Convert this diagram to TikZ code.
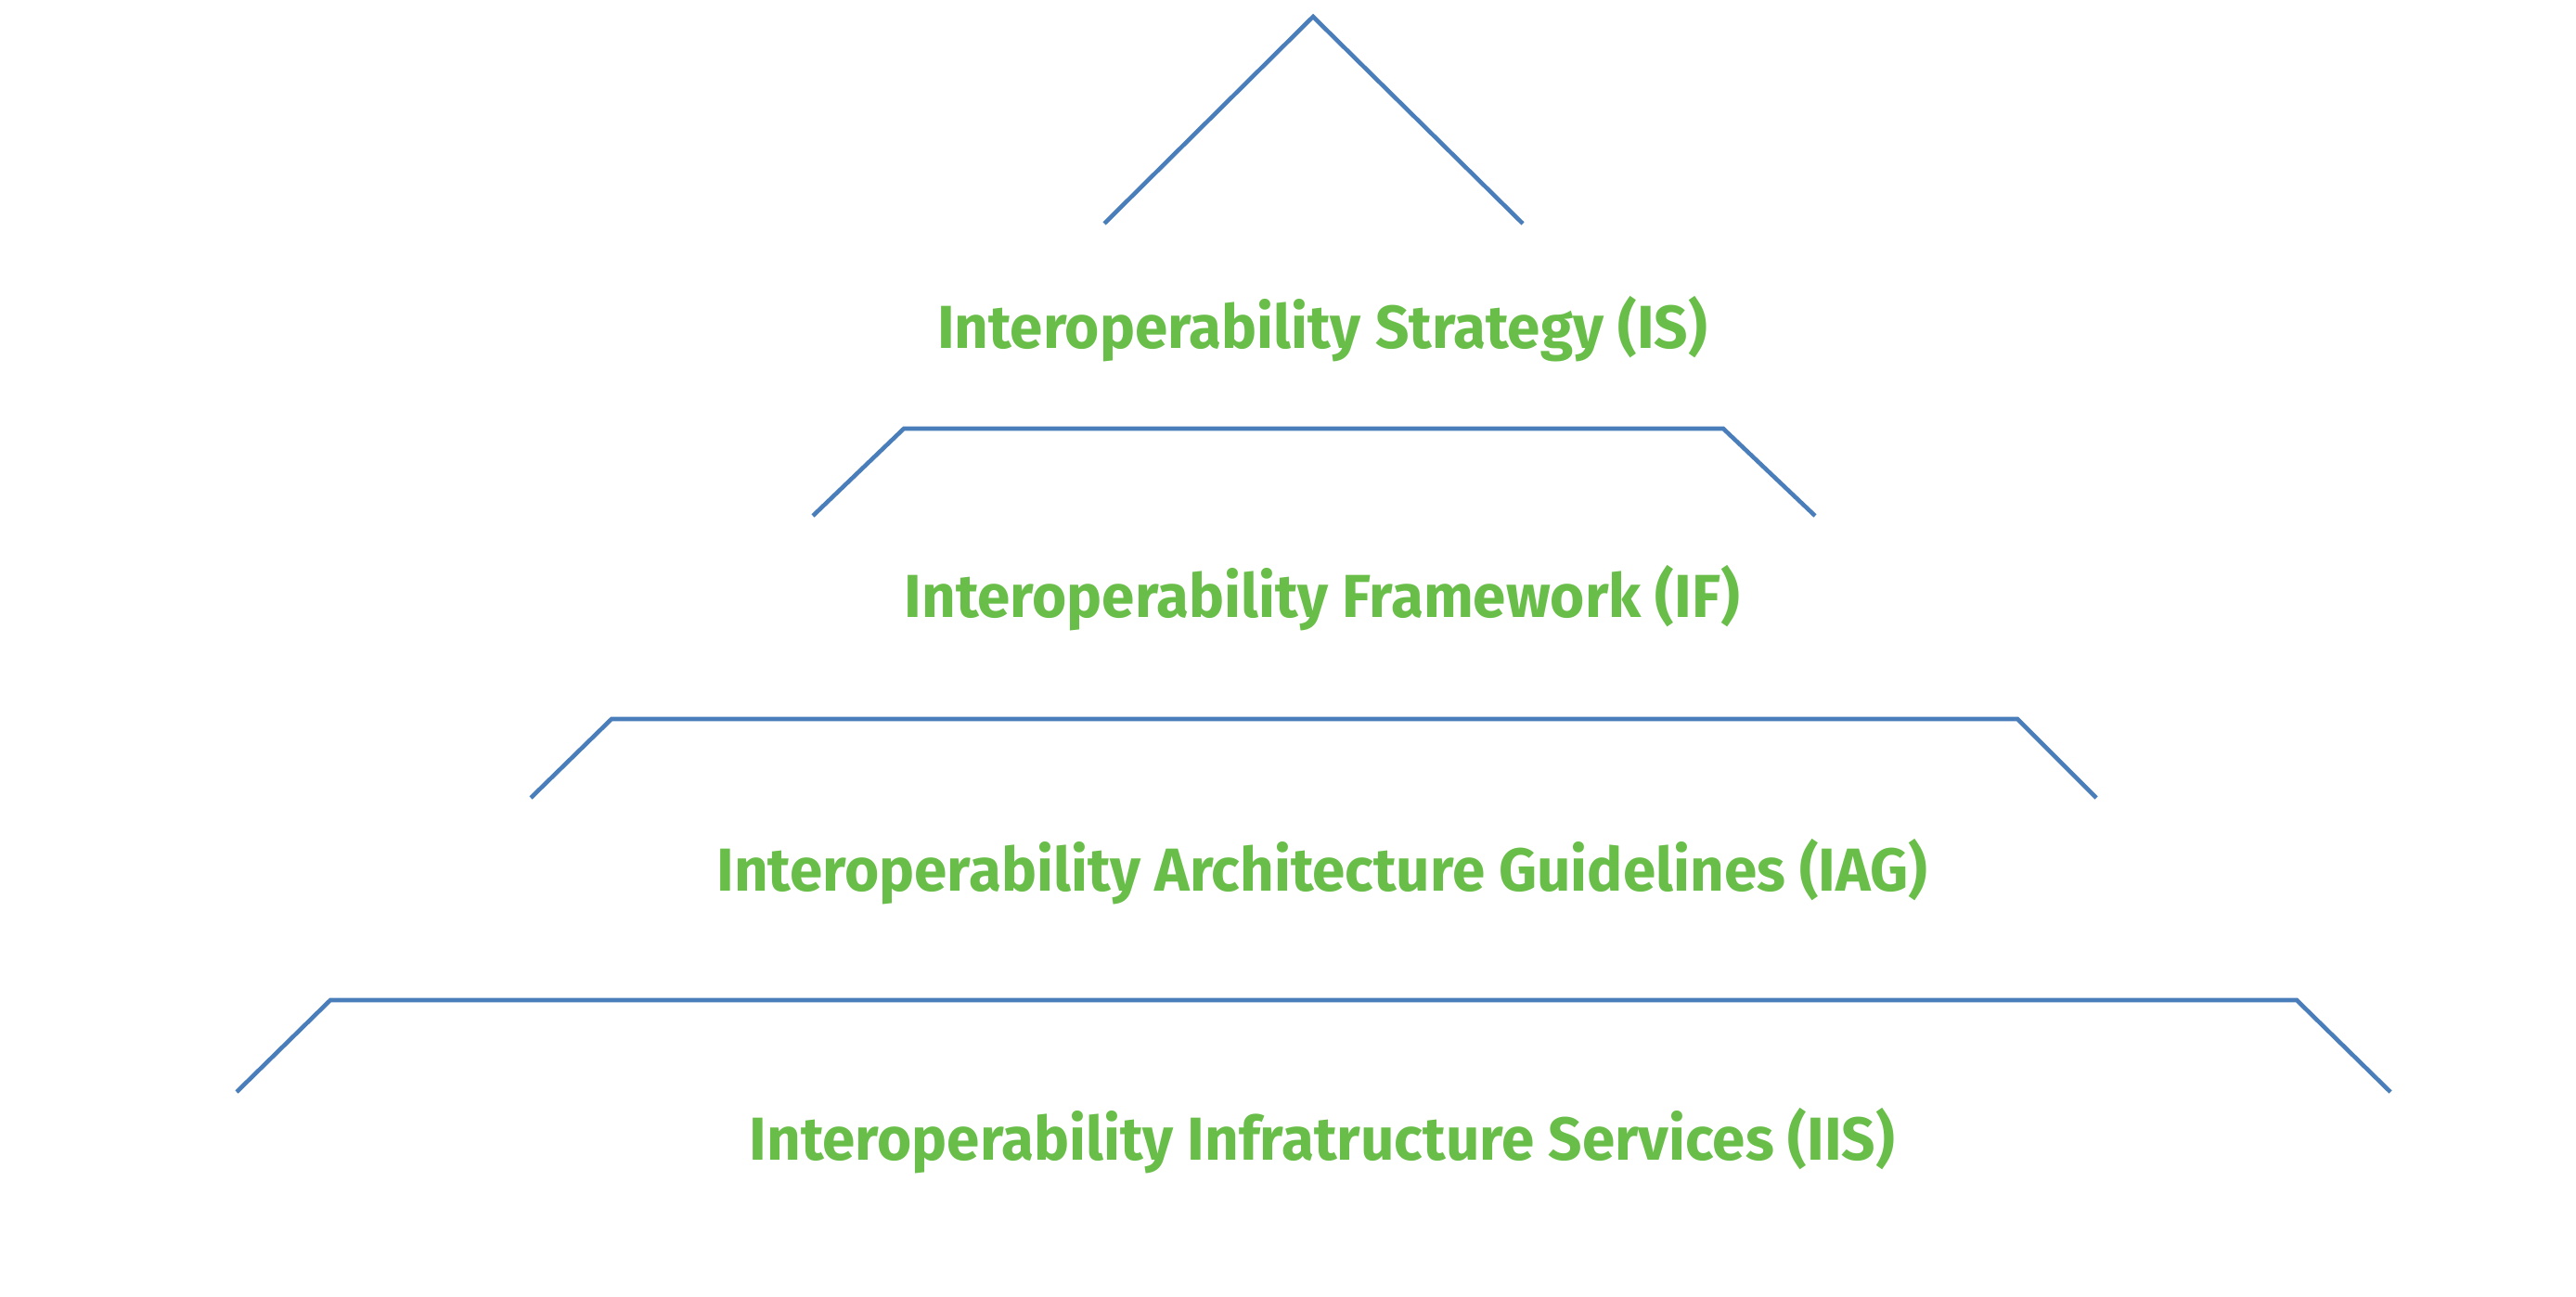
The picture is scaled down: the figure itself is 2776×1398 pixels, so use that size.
\documentclass[tikz,border=0pt]{standalone}
\usepackage{fontspec}
\newfontfamily\layerfont[FakeStretch=0.975]{Fira Sans}
\definecolor{layerblue}{RGB}{74,126,187}
\definecolor{layergreen}{RGB}{104,190,72}
\begin{document}
\begin{tikzpicture}[x=0.01cm, y=-0.01cm,
    layer/.style={anchor=base, text=layergreen, font=\layerfont\bfseries\fontsize{18.6}{22}\selectfont},
    edge/.style={layerblue, line width=1.3pt}]
    \useasboundingbox (0,0) rectangle (2776,1398);

    % Pyramid outline
    \draw[edge] (1190,241) -- (1415,18) -- (1641,241);
    \draw[edge] (876,556) -- (974,462) -- (1857,462) -- (1956,556);
    \draw[edge] (572,860) -- (659,775) -- (2174,775) -- (2259,860);
    \draw[edge] (255,1177) -- (356,1078) -- (2475,1078) -- (2576,1177);

    % Layer names
    \node[layer] (is)  at (1425,376)  {Interoperability Strategy (IS)};
    \node[layer] (if)  at (1425,666)  {Interoperability Framework (IF)};
    \node[layer] (iag) at (1425,960)  {Interoperability Architecture Guidelines (IAG)};
    \node[layer] (iis) at (1425,1250) {Interoperability Infratructure Services (IIS)};
\end{tikzpicture}
\end{document}
